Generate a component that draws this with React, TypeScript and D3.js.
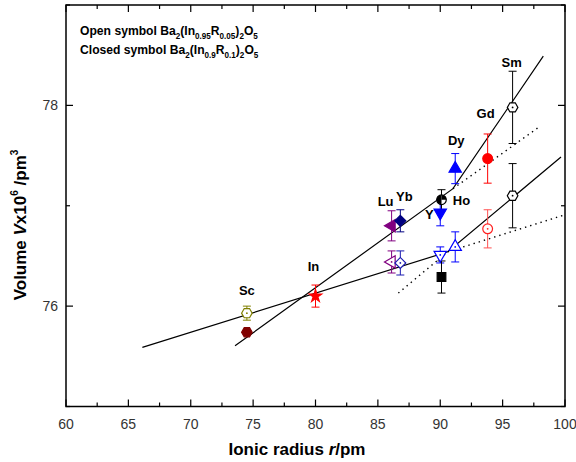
import React from "react";
import * as d3 from "d3";

// ---- data ----
const elements = ["Sc", "In", "Lu", "Yb", "Y", "Ho", "Dy", "Gd", "Sm"];
const radii = [74.5, 80, 86.1, 86.8, 90, 90.1, 91.2, 93.8, 95.8];
// open symbol series Ba2(In0.95R0.05)2O5 (null = not measured)
const openV = [75.93, null, 76.44, 76.43, 76.51, 76.29, 76.59, 76.77, 77.10];
const openErr = [0.07, 0, 0.11, 0.12, 0.08, 0.16, 0.15, 0.19, 0.32];
// closed symbol series Ba2(In0.9R0.1)2O5
const closedV = [75.74, 76.10, 76.80, 76.85, 76.93, 77.06, 77.37, 77.47, 77.98];
const closedErr = [0.02, 0.11, 0.15, 0.11, 0.13, 0.10, 0.15, 0.245, 0.36];

// fitted lines (data space)
const steepSolid: [number, number][] = [[73.55, 75.605], [91.02, 77.17], [98.26, 78.49]];
const steepDotted: [number, number][] = [[91.02, 77.17], [97.87, 77.78]];
const shallowSolid: [number, number][] = [[66.12, 75.589], [90.6, 76.541], [99.68, 77.486]];
const shallowDotted: [number, number][] = [[90.6, 76.541], [99.86, 76.905]];
const backDotted: [number, number][] = [[86.64, 76.13], [90.6, 76.541]];

const xTicks = [60, 65, 70, 75, 80, 85, 90, 95, 100];
const xMinor = [62.5, 67.5, 72.5, 77.5, 82.5, 87.5, 92.5, 97.5];
const yTicks = [76, 78];
const yMinor = [75, 77, 79];

// ---- styles ----
const openSymbols = ["hexagon", "", "triLeft", "diamond", "triDown", "square", "triUp", "circle", "hexagon"];
const openFilled = [false, false, false, false, false, true, false, false, false];
const openColors = ["#808000", "", "#800080", "#1a1ab0", "#0000ff", "#000000", "#0000ff", "#ff2020", "#000000"];
const closedSymbols = ["hexagon", "star", "triLeft", "diamond", "triDown", "halfCircle", "triUp", "circle", "hexagon"];
const closedFilled = [true, true, true, true, true, true, true, true, false];
const closedColors = ["#800000", "#ff0000", "#800080", "#000080", "#0000ff", "#000000", "#0000ff", "#ff0000", "#000000"];
const labelDx = [0, -2, -6, 4, -11, 20, 1, -2, -1];
const labelDy = [-23, -30, -24, -24, 2, 1, -28, -45, -45];
const labelAnchorClosed = [false, true, true, true, true, true, true, true, true];

const W = 576, H = 462;
const M = { left: 66, right: 565, top: 5, bottom: 406.5 };
const FONT = "'Liberation Sans', Arial, sans-serif";

function hexPath(r: number) {
  const pts = d3.range(6).map((i) => {
    const a = (Math.PI / 3) * i;
    return [r * Math.cos(a), r * Math.sin(a)];
  });
  return "M" + pts.map((p) => p.join(",")).join("L") + "Z";
}

function Marker({ kind, filled, color, x, y }: any) {
  const fill = filled ? color : "#fff";
  let d = "";
  let rot = 0;
  if (kind === "hexagon") d = hexPath(5.3);
  else if (kind === "star") d = d3.symbol(d3.symbolStar, 48)() as string;
  else if (kind === "diamond") { d = d3.symbol(d3.symbolSquare, 60)() as string; rot = 45; }
  else if (kind === "square") d = d3.symbol(d3.symbolSquare, 75)() as string;
  else if (kind === "circle") d = d3.symbol(d3.symbolCircle, 75)() as string;
  else if (kind === "triUp") d = d3.symbol(d3.symbolTriangle, 66)() as string;
  else if (kind === "triDown") { d = d3.symbol(d3.symbolTriangle, 66)() as string; rot = 180; }
  else if (kind === "triLeft") { d = d3.symbol(d3.symbolTriangle, 66)() as string; rot = -90; }
  if (kind === "halfCircle") {
    return (
      <g transform={`translate(${x},${y})`}>
        <circle r={4.8} fill="#fff" stroke={color} strokeWidth={1.2} />
        <path d="M0,-4.8A4.8,4.8 0 0,0 0,4.8Z" fill={color} />
        <path d="M0,-4.8A4.8,4.8 0 0,1 4.8,0L0,0Z" fill={color} />
      </g>
    );
  }
  return (
    <g transform={`translate(${x},${y}) rotate(${rot})`}>
      <path d={d} fill={fill} stroke={color} strokeWidth={1.2} />
      {!filled && <circle r={0.9} fill={color} />}
    </g>
  );
}

function ErrBar({ x, y0, y1, color }: any) {
  return (
    <g stroke={color} strokeWidth={1}>
      <line x1={x} x2={x} y1={y0} y2={y1} />
      <line x1={x - 4} x2={x + 4} y1={y0} y2={y0} />
      <line x1={x - 4} x2={x + 4} y1={y1} y2={y1} />
    </g>
  );
}

function Formula({ x, y, parts }: any) {
  return (
    <text transform={`translate(${x},${y}) scale(0.9,1)`} fontFamily={FONT} fontWeight="bold" fontSize={13.5} fill="#000">
      {parts.map((p: [string, boolean], i: number) => {
        const prevSub = i > 0 && parts[i - 1][1];
        const dy = p[1] && !prevSub ? 3.8 : !p[1] && prevSub ? -3.8 : 0;
        return (
          <tspan key={i} dy={dy} fontSize={p[1] ? 9 : 13.5}>{p[0]}</tspan>
        );
      })}
    </text>
  );
}

export default function App() {
  const x = d3.scaleLinear().domain([60, 100]).range([M.left, M.right]);
  const y = d3.scaleLinear().domain([75, 79]).range([M.bottom, M.top]);
  const line = d3.line<[number, number]>().x((d) => x(d[0])).y((d) => y(d[1]));

  const pts: any[] = [];
  elements.forEach((el, i) => {
    if (openV[i] != null) pts.push({ i, v: openV[i], e: openErr[i], kind: openSymbols[i], filled: openFilled[i], color: openColors[i] });
    pts.push({ i, v: closedV[i], e: closedErr[i], kind: closedSymbols[i], filled: closedFilled[i], color: closedColors[i] });
  });

  return (
    <svg width={W} height={H} style={{ position: "absolute", left: 0, top: 0, background: "#fff" }}>
      {/* lines */}
      <g fill="none" stroke="#000">
        <path d={line(steepSolid) as string} strokeWidth={1.2} />
        <path d={line(shallowSolid) as string} strokeWidth={1.2} />
        <path d={line(steepDotted) as string} strokeWidth={1.4} strokeDasharray="1.4,4" />
        <path d={line(shallowDotted) as string} strokeWidth={1.4} strokeDasharray="1.4,4" />
        <path d={line(backDotted) as string} strokeWidth={1.4} strokeDasharray="1.4,4" />
      </g>
      {/* error bars */}
      {pts.map((p, k) => (
        <ErrBar key={"e" + k} x={x(radii[p.i])} y0={y(p.v + p.e)} y1={y(p.v - p.e)} color={p.color === "#ff2020" ? "#ff5050" : p.color} />
      ))}
      {/* markers */}
      {pts.map((p, k) => (
        <Marker key={"m" + k} kind={p.kind} filled={p.filled} color={p.color} x={x(radii[p.i])} y={y(p.v)} />
      ))}
      {/* labels */}
      {elements.map((el, i) => {
        const v = labelAnchorClosed[i] ? closedV[i] : (openV[i] as number);
        return (
          <text key={"l" + el} x={x(radii[i]) + labelDx[i]} y={y(v) + labelDy[i]} textAnchor="middle" dominantBaseline="central"
            fontFamily={FONT} fontWeight="bold" fontSize={13} fill="#000">{el}</text>
        );
      })}
      {/* frame */}
      <rect x={M.left} y={M.top} width={M.right - M.left} height={M.bottom - M.top} fill="none" stroke="#000" strokeWidth={1.5} />
      {/* ticks */}
      <g stroke="#000" strokeWidth={1.2}>
        {xTicks.map((t) => (
          <g key={"xt" + t}>
            <line x1={x(t)} x2={x(t)} y1={M.bottom} y2={M.bottom - 7} />
            <line x1={x(t)} x2={x(t)} y1={M.top} y2={M.top + 7} />
          </g>
        ))}
        {xMinor.map((t) => (
          <g key={"xm" + t}>
            <line x1={x(t)} x2={x(t)} y1={M.bottom} y2={M.bottom - 4} />
            <line x1={x(t)} x2={x(t)} y1={M.top} y2={M.top + 4} />
          </g>
        ))}
        {yTicks.map((t) => (
          <g key={"yt" + t}>
            <line x1={M.left} x2={M.left + 7} y1={y(t)} y2={y(t)} />
            <line x1={M.right} x2={M.right - 7} y1={y(t)} y2={y(t)} />
          </g>
        ))}
        {yMinor.map((t) => (
          <g key={"ym" + t}>
            <line x1={M.left} x2={M.left + 4} y1={y(t)} y2={y(t)} />
            <line x1={M.right} x2={M.right - 4} y1={y(t)} y2={y(t)} />
          </g>
        ))}
      </g>
      {xTicks.map((t) => (
        <text key={"xl" + t} x={x(t)} y={M.bottom + 17} textAnchor="middle" dominantBaseline="central" fontFamily={FONT} fontSize={14} fill="#333">{t}</text>
      ))}
      {yTicks.map((t) => (
        <text key={"yl" + t} x={M.left - 8} y={y(t)} textAnchor="end" dominantBaseline="central" fontFamily={FONT} fontSize={14} fill="#333">{t}</text>
      ))}
      {/* axis titles */}
      <text x={297} y={449} textAnchor="middle" dominantBaseline="central" fontFamily={FONT} fontWeight="bold" fontSize={17} fill="#000">
        Ionic radius <tspan fontStyle="italic">r</tspan>/pm
      </text>
      <text transform="translate(20,225) rotate(-90)" textAnchor="middle" dominantBaseline="central" fontFamily={FONT} fontWeight="bold" fontSize={17} fill="#000">
        Volume <tspan fontStyle="italic">V</tspan>x10<tspan dy={-6} fontSize={10}>6</tspan><tspan dy={6}> /pm</tspan><tspan dy={-6} fontSize={10}>3</tspan>
      </text>
      {/* legend text */}
      <Formula x={80} y={35} parts={[["Open symbol Ba", false], ["2", true], ["(In", false], ["0.95", true], ["R", false], ["0.05", true], [")", false], ["2", true], ["O", false], ["5", true]]} />
      <Formula x={80} y={54} parts={[["Closed symbol Ba", false], ["2", true], ["(In", false], ["0.9", true], ["R", false], ["0.1", true], [")", false], ["2", true], ["O", false], ["5", true]]} />
    </svg>
  );
}
